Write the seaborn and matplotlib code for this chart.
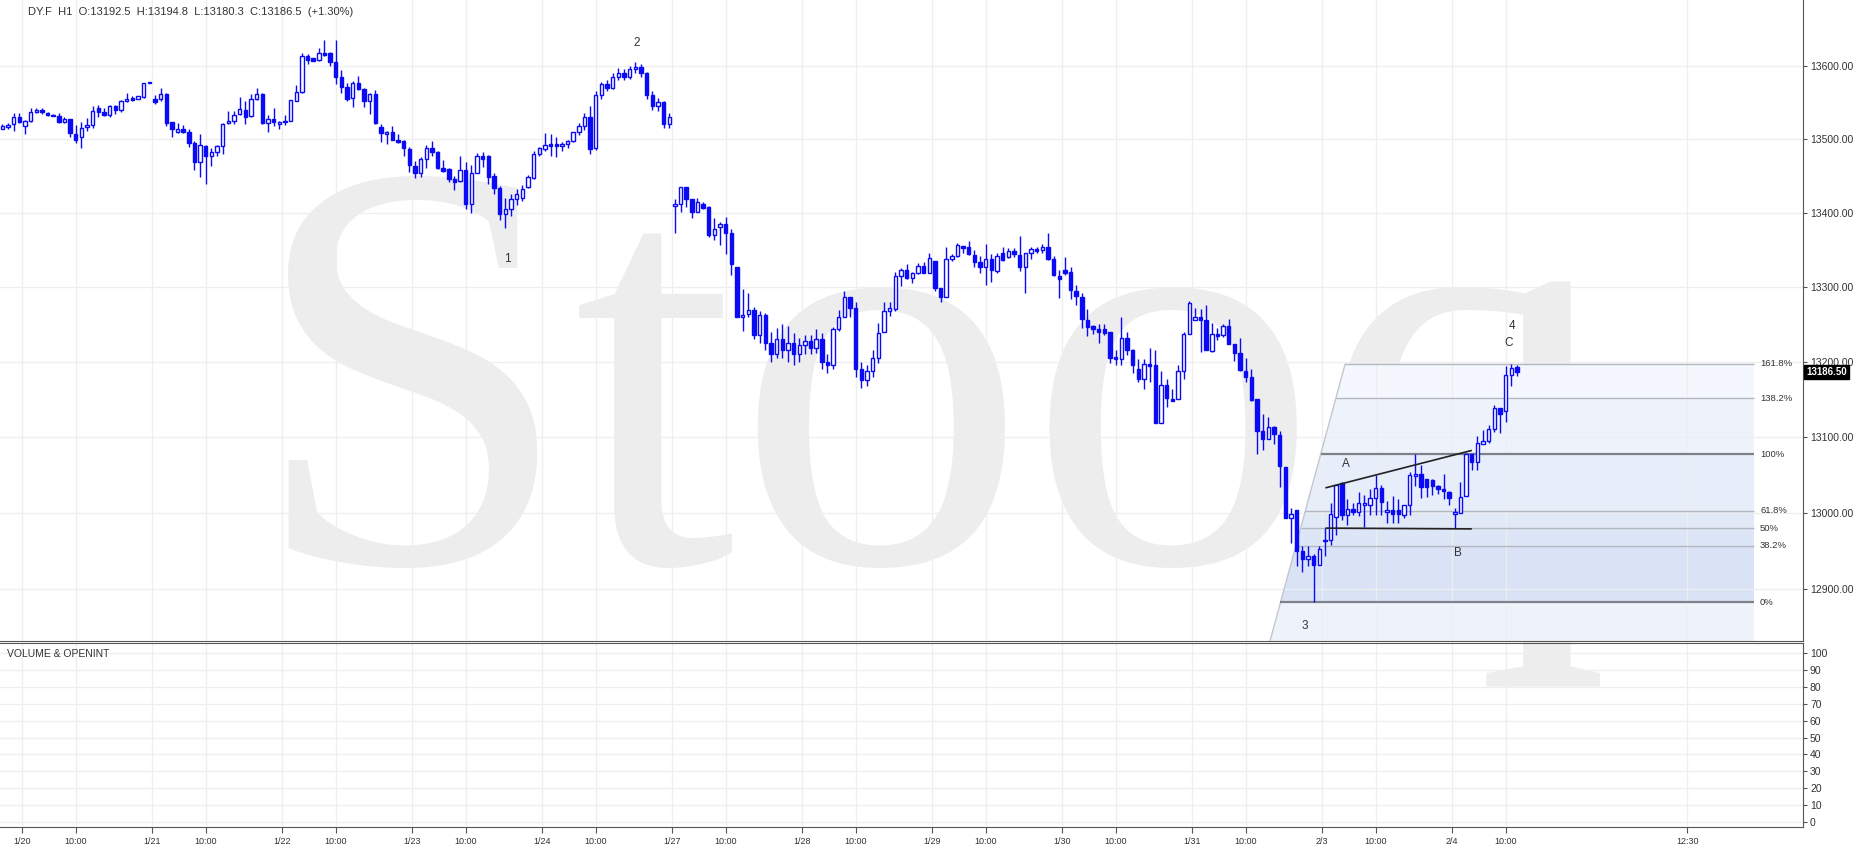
import numpy as np
import matplotlib
matplotlib.use("Agg")
import matplotlib.pyplot as plt
import matplotlib.transforms as mtransforms
from matplotlib.ticker import FixedLocator, NullLocator, FuncFormatter
from matplotlib.patches import Polygon
import seaborn as sns


# hourly candles DY.F, 1/17 evening .. 2/4 12:00 (23 bars per day)
opens = [
    13514, 13516, 13520, 13530, 13518, 13525, 13536, 13539, 13535, 13533,
    13531, 13523, 13527, 13507, 13502, 13516, 13519, 13542, 13536, 13533,
    13545, 13539, 13551, 13556, 13554, 13557, 13577, 13555, 13554, 13561,
    13523, 13510, 13513, 13509, 13495, 13469, 13490, 13476, 13482, 13490,
    13521, 13525, 13534, 13540, 13531, 13554, 13561, 13521, 13527, 13520,
    13525, 13525, 13552, 13564, 13613, 13610, 13608, 13618, 13618, 13605,
    13584, 13571, 13556, 13577, 13568, 13551, 13561, 13516, 13506, 13509,
    13499, 13497, 13486, 13463, 13453, 13472, 13488, 13482, 13460, 13459,
    13445, 13443, 13458, 13412, 13454, 13476, 13476, 13449, 13433, 13398,
    13405, 13418, 13420, 13434, 13447, 13480, 13486, 13493, 13493, 13490,
    13493, 13497, 13509, 13518, 13530, 13487, 13560, 13575, 13570, 13585,
    13590, 13585, 13595, 13598, 13590, 13560, 13545, 13550, 13520, 13409,
    13412, 13434, 13418, 13401, 13412, 13408, 13369, 13380, 13385, 13372,
    13327, 13259, 13264, 13269, 13236, 13262, 13225, 13210, 13230, 13215,
    13225, 13210, 13222, 13228, 13218, 13230, 13200, 13195, 13244, 13260,
    13286, 13271, 13190, 13175, 13188, 13205, 13240, 13267, 13270, 13314,
    13322, 13312, 13318, 13328, 13319, 13334, 13298, 13286, 13337, 13342,
    13355, 13353, 13343, 13333, 13326, 13337, 13321, 13345, 13340, 13348,
    13343, 13327, 13346, 13351, 13350, 13353, 13337, 13315, 13322, 13320,
    13295, 13286, 13255, 13247, 13243, 13243, 13240, 13206, 13204, 13231,
    13216, 13190, 13177, 13197, 13195, 13119, 13169, 13150, 13150, 13188,
    13237, 13256, 13259, 13255, 13214, 13237, 13236, 13248, 13224, 13212,
    13188, 13180, 13150, 13108, 13097, 13113, 13103, 13060, 12993, 13004,
    12950, 12940, 12943, 12932, 12963, 12965, 12995, 13039, 12997, 13005,
    13001, 13010, 13010, 13020, 13033, 13001, 13004, 13004, 12997, 13010,
    13048, 13051, 13044, 13043, 13035, 13032, 13028, 12998, 13000, 13022,
    13078, 13067, 13091, 13094, 13110, 13138, 13134, 13182, 13192.5,
]
highs = [
    13520, 13521, 13535, 13535, 13526, 13542, 13542, 13542, 13537, 13534,
    13535, 13530, 13527, 13519, 13523, 13528, 13545, 13546, 13542, 13546,
    13546, 13553, 13562, 13559, 13559, 13577, 13577, 13560, 13569, 13562,
    13523, 13522, 13519, 13513, 13497, 13507, 13491, 13488, 13492, 13522,
    13538, 13538, 13557, 13552, 13561, 13569, 13563, 13533, 13542, 13525,
    13532, 13553, 13574, 13618, 13616, 13610, 13624, 13636, 13619, 13635,
    13594, 13577, 13579, 13586, 13569, 13562, 13567, 13520, 13511, 13518,
    13507, 13498, 13489, 13470, 13475, 13491, 13497, 13483, 13471, 13460,
    13450, 13476, 13469, 13464, 13481, 13482, 13478, 13454, 13436, 13420,
    13425, 13432, 13437, 13451, 13483, 13489, 13508, 13507, 13502, 13496,
    13498, 13510, 13522, 13535, 13545, 13565, 13578, 13580, 13590, 13597,
    13596, 13600, 13605, 13602, 13592, 13565, 13556, 13552, 13535, 13419,
    13434, 13434, 13418, 13420, 13414, 13409, 13392, 13387, 13394, 13378,
    13327, 13297, 13291, 13273, 13268, 13265, 13240, 13245, 13250, 13248,
    13238, 13232, 13235, 13235, 13243, 13238, 13210, 13246, 13269, 13294,
    13286, 13279, 13200, 13195, 13215, 13252, 13279, 13279, 13320, 13325,
    13331, 13320, 13332, 13333, 13345, 13334, 13298, 13353, 13344, 13359,
    13355, 13362, 13350, 13341, 13358, 13344, 13345, 13354, 13352, 13352,
    13368, 13346, 13353, 13354, 13358, 13373, 13342, 13322, 13340, 13326,
    13302, 13291, 13270, 13249, 13250, 13250, 13240, 13215, 13260, 13240,
    13217, 13204, 13204, 13218, 13215, 13187, 13177, 13163, 13196, 13239,
    13281, 13272, 13270, 13275, 13252, 13245, 13250, 13257, 13224, 13232,
    13205, 13190, 13150, 13130, 13126, 13114, 13108, 13060, 13007, 13004,
    12956, 12956, 12946, 12956, 12980, 13013, 13037, 13040, 13018, 13013,
    13028, 13024, 13031, 13050, 13036, 13016, 13022, 13018, 13010, 13054,
    13077, 13063, 13045, 13044, 13037, 13051, 13029, 13007, 13040, 13079,
    13078, 13101, 13109, 13116, 13142, 13138, 13194, 13196.5, 13194.8,
]
lows = [
    13513, 13514, 13511, 13521, 13507, 13523, 13535, 13534, 13531, 13531,
    13521, 13522, 13502, 13494, 13487, 13511, 13515, 13530, 13531, 13530,
    13534, 13536, 13550, 13552, 13554, 13556, 13577, 13548, 13551, 13517,
    13502, 13508, 13508, 13489, 13458, 13448, 13439, 13463, 13476, 13480,
    13520, 13520, 13532, 13520, 13530, 13553, 13520, 13510, 13517, 13513,
    13519, 13524, 13551, 13563, 13602, 13606, 13607, 13613, 13599, 13575,
    13562, 13551, 13543, 13567, 13543, 13534, 13520, 13496, 13493, 13498,
    13495, 13477, 13455, 13447, 13448, 13461, 13476, 13459, 13455, 13441,
    13431, 13442, 13405, 13400, 13453, 13462, 13438, 13425, 13390, 13379,
    13395, 13410, 13415, 13433, 13446, 13476, 13483, 13477, 13475, 13483,
    13488, 13496, 13505, 13512, 13480, 13485, 13555, 13565, 13568, 13580,
    13580, 13582, 13590, 13585, 13555, 13540, 13538, 13515, 13515, 13372,
    13401, 13408, 13393, 13401, 13405, 13367, 13363, 13356, 13344, 13316,
    13259, 13241, 13259, 13230, 13225, 13215, 13200, 13205, 13205, 13200,
    13195, 13200, 13210, 13210, 13212, 13190, 13185, 13190, 13241, 13259,
    13259, 13180, 13165, 13168, 13180, 13198, 13239, 13261, 13268, 13301,
    13310, 13305, 13317, 13318, 13318, 13295, 13279, 13286, 13334, 13340,
    13345, 13343, 13327, 13319, 13302, 13306, 13318, 13335, 13339, 13340,
    13321, 13291, 13337, 13346, 13345, 13336, 13315, 13285, 13316, 13283,
    13276, 13245, 13234, 13237, 13225, 13235, 13198, 13196, 13196, 13209,
    13185, 13173, 13164, 13173, 13119, 13118, 13140, 13147, 13150, 13177,
    13237, 13256, 13213, 13215, 13213, 13229, 13233, 13223, 13201, 13188,
    13173, 13147, 13078, 13083, 13097, 13091, 13034, 12993, 12960, 12930,
    12923, 12931, 12883, 12932, 12943, 12958, 12971, 12991, 12984, 12997,
    12996, 12982, 12997, 12997, 12997, 12987, 12987, 12987, 12993, 12997,
    13035, 13020, 13021, 13023, 13025, 13018, 13010, 12980, 13000, 13022,
    13057, 13057, 13091, 13092, 13106, 13105, 13120, 13167, 13180.3,
]
closes = [
    13518, 13519, 13530, 13523, 13524, 13536, 13539, 13536, 13532, 13531,
    13523, 13527, 13508, 13499, 13515, 13519, 13538, 13536, 13533, 13545,
    13539, 13551, 13555, 13553, 13558, 13577, 13577, 13550, 13561, 13522,
    13513, 13513, 13510, 13495, 13469, 13491, 13476, 13482, 13490, 13520,
    13525, 13533, 13541, 13530, 13555, 13561, 13521, 13527, 13523, 13523,
    13523, 13553, 13564, 13613, 13608, 13607, 13618, 13615, 13605, 13584,
    13571, 13555, 13577, 13568, 13551, 13561, 13521, 13508, 13509, 13499,
    13496, 13487, 13464, 13453, 13472, 13488, 13482, 13461, 13456, 13445,
    13441, 13458, 13412, 13453, 13476, 13473, 13448, 13433, 13398, 13405,
    13418, 13425, 13432, 13448, 13479, 13487, 13492, 13490, 13490, 13493,
    13497, 13509, 13518, 13530, 13486, 13560, 13575, 13570, 13585, 13590,
    13585, 13595, 13598, 13590, 13560, 13545, 13550, 13520, 13530, 13412,
    13434, 13419, 13401, 13414, 13406, 13369, 13378, 13385, 13373, 13330,
    13260, 13262, 13269, 13236, 13262, 13225, 13210, 13230, 13215, 13225,
    13210, 13222, 13228, 13218, 13230, 13200, 13195, 13244, 13260, 13286,
    13271, 13190, 13175, 13188, 13205, 13238, 13267, 13272, 13314, 13323,
    13312, 13318, 13328, 13319, 13339, 13299, 13286, 13337, 13342, 13356,
    13352, 13344, 13333, 13326, 13337, 13322, 13342, 13336, 13348, 13344,
    13326, 13346, 13351, 13348, 13353, 13337, 13316, 13311, 13319, 13296,
    13287, 13257, 13246, 13244, 13240, 13238, 13205, 13203, 13231, 13215,
    13196, 13177, 13197, 13194, 13119, 13169, 13151, 13147, 13187, 13237,
    13278, 13259, 13256, 13216, 13237, 13234, 13248, 13223, 13212, 13189,
    13180, 13149, 13108, 13097, 13113, 13104, 13061, 12993, 12999, 12950,
    12940, 12943, 12932, 12953, 12965, 12998, 13037, 12997, 13005, 13001,
    13013, 13013, 13020, 13033, 13014, 13004, 12999, 12999, 13010, 13050,
    13051, 13034, 13034, 13035, 13031, 13029, 13019, 13001, 13021, 13078,
    13067, 13092, 13094, 13110, 13138, 13131, 13182, 13191, 13186.5,
]

day_labels = ["1/20", "1/21", "1/22", "1/23", "1/24", "1/27",
              "1/28", "1/29", "1/30", "1/31", "2/3", "2/4"]
bars_per_day = 23
first_day_start = 3.5      # bar position of the 1/20 day boundary
ten_oclock_offset = 9.5    # 10:00 bar, counted from the day boundary
future_label = ("12:30", 298.1)

price_ticks = [12900, 13000, 13100, 13200, 13300, 13400, 13500, 13600]
volume_ticks = [0, 10, 20, 30, 40, 50, 60, 70, 80, 90, 100]

# fibonacci projection (low at wave 3, 100% at the A high)
fib_low = 12883
fib_high = 13077
fib_levels = [0, 38.2, 50, 61.8, 100, 138.2, 161.8]
fib_x_bottom, fib_x_top, fib_x_end = 224.3, 237.6, 309.9
fib_band_colors = ["#eef3fb", "#d9e3f5", "#dde6f6", "#e1e9f7",
                   "#e7eef9", "#eef3fb", "#f4f7fd"]

# wave labels (bar position, price)
wave_labels = [("1", 89.3, 13337), ("2", 112.3, 13631), ("3", 230.5, 12852),
               ("4", 267.1, 13247), ("A", 237.7, 13064), ("B", 257.6, 12948),
               ("C", 266.6, 13225)]
trend_upper = [(234.2, 13033), (259.9, 13082)]
trend_lower = [(234.2, 12980), (259.9, 12979)]

header = "DY.F  H1  O:13192.5  H:13194.8  L:13180.3  C:13186.5  (+1.30%)"
last_close = 13186.5

BLUE = "#0a0af5"
GRID = "#eeeeee"
AXIS = "#555555"
TEXT = "#333333"

W, H = 1863, 857
Y_MIN, Y_MAX = 12833, 13690.5

sns.set_theme(style="white")
plt.rcParams["font.family"] = ["Liberation Sans", "DejaVu Sans"]

fig = plt.figure(figsize=(W / 100, H / 100), dpi=100)
fig.patch.set_facecolor("white")
ax = fig.add_axes([0, 216 / H, 1803 / W, 641 / H])
axv = fig.add_axes([0, 30 / H, 1803 / W, 184 / H], sharex=ax)
for a in (ax, axv):
    a.set_facecolor("none")

# watermark
fig.text(249 / W, (H - 562) / H, "Stooq", fontsize=420, family="Liberation Serif",
         color="#ededed", ha="left", va="baseline", zorder=-5)

o = np.array(opens, float)
h = np.array(highs, float)
l = np.array(lows, float)
c = np.array(closes, float)
h = np.maximum(h, np.maximum(o, c))
l = np.minimum(l, np.minimum(o, c))
x = np.arange(len(c))
up = c >= o

ax.set_yscale("log")
ax.set_xlim(-0.41, 318.6)
ax.set_ylim(Y_MIN, Y_MAX)

# fib bands
fib_prices = [fib_low + lv / 100 * (fib_high - fib_low) for lv in fib_levels]
fib_top = fib_prices[-1]


def slant_x(p):
    t = (np.log(p) - np.log(Y_MIN)) / (np.log(fib_top) - np.log(Y_MIN))
    return fib_x_bottom + t * (fib_x_top - fib_x_bottom)


bounds = [Y_MIN] + fib_prices
for lo, hi, col in zip(bounds[:-1], bounds[1:], fib_band_colors):
    poly = Polygon([(slant_x(lo), lo), (fib_x_end, lo), (fib_x_end, hi), (slant_x(hi), hi)],
                   closed=True, facecolor=col, edgecolor="none", zorder=0.2)
    ax.add_patch(poly)
ax.plot([fib_x_bottom, fib_x_top], [Y_MIN, fib_top], color="#c3c7cf", lw=1, zorder=0.6)
for lv, p in zip(fib_levels, fib_prices):
    strong = lv in (0, 100)
    ax.hlines(p, slant_x(p), fib_x_end, color="#7d818a" if strong else "#b3b7bf",
              lw=1.6 if strong else 1.0, zorder=0.7)
    ax.text(311, p, f"{lv:g}%", fontsize=6.8, color=TEXT, va="center", ha="left")

# candles
ax.vlines(x, l, h, color=BLUE, lw=1.0, zorder=3)
body_lo = np.minimum(o, c)
body_h = np.maximum(np.abs(c - o), 0.6)
ax.bar(x[up], body_h[up], bottom=body_lo[up], width=0.6, color="white",
       edgecolor=BLUE, lw=1.0, zorder=4)
ax.bar(x[~up], body_h[~up], bottom=body_lo[~up], width=0.6, color=BLUE,
       edgecolor=BLUE, lw=1.0, zorder=4)

# trend lines and wave labels
for seg in (trend_upper, trend_lower):
    ax.plot([seg[0][0], seg[1][0]], [seg[0][1], seg[1][1]], color="#222222", lw=1.2, zorder=5)
for txt, xi, yi in wave_labels:
    ax.text(xi, yi, txt, fontsize=8.5, color=TEXT, ha="center", va="center", zorder=6)

# ticks
day_pos = [first_day_start + bars_per_day * k for k in range(len(day_labels))]
ten_pos = [p + ten_oclock_offset for p in day_pos]
tick_pos = []
tick_lab = []
for d, t, lab in zip(day_pos, ten_pos, day_labels):
    tick_pos += [d, t]
    tick_lab += [lab, "10:00"]
tick_pos.append(future_label[1])
tick_lab.append(future_label[0])
axv.xaxis.set_major_locator(FixedLocator(tick_pos))
axv.set_xticklabels(tick_lab)

ax.yaxis.set_major_locator(FixedLocator(price_ticks))
ax.yaxis.set_minor_locator(NullLocator())
ax.yaxis.set_major_formatter(FuncFormatter(lambda v, _: f"{v:.2f}"))
ax.yaxis.tick_right()
ax.tick_params(axis="y", which="major", length=3, width=0.8, color=AXIS,
               labelsize=7.5, labelcolor=TEXT, pad=2)
ax.tick_params(axis="x", bottom=False, labelbottom=False)

axv.set_ylim(-3, 106)
axv.yaxis.set_major_locator(FixedLocator(volume_ticks))
axv.yaxis.tick_right()
axv.tick_params(axis="y", length=3, width=0.8, color=AXIS, labelsize=7.5,
                labelcolor=TEXT, pad=2)
axv.tick_params(axis="x", bottom=True, length=4, width=0.8, color=AXIS,
                labelsize=6.5, labelcolor=TEXT, pad=3)

for a in (ax, axv):
    a.grid(True, color=GRID, lw=0.9)
    a.set_axisbelow(True)
    for side in ("left", "top"):
        a.spines[side].set_visible(False)
    for side in ("right", "bottom"):
        a.spines[side].set_color(AXIS)
        a.spines[side].set_linewidth(0.8)
axv.spines["top"].set_visible(True)
axv.spines["top"].set_color(AXIS)
axv.spines["top"].set_linewidth(0.8)

axv.text(0.004, 0.94, "VOLUME & OPENINT", transform=axv.transAxes,
         fontsize=7.5, color=TEXT, va="center", ha="left")

# last price box
trans = mtransforms.blended_transform_factory(ax.transAxes, ax.transData)
ax.text(1.0 + 3 / 1803, last_close, f"{last_close:.2f}", transform=trans,
        fontsize=7, color="white", va="center", ha="left", fontweight="bold",
        bbox=dict(boxstyle="square,pad=0.2", facecolor="black", edgecolor="black"),
        clip_on=False, zorder=10)

fig.text(28 / W, 1 - 12 / H, header, fontsize=8, color=TEXT, va="center", ha="left")

fig.savefig("out.png", dpi=100, facecolor="white")
